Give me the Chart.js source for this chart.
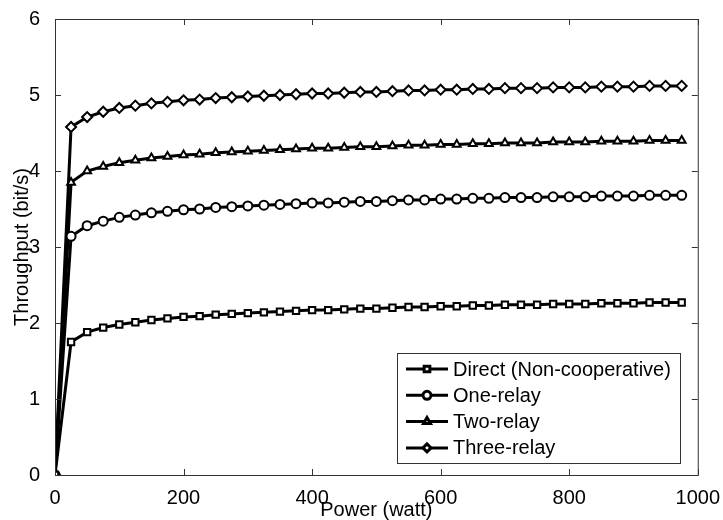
<!DOCTYPE html>
<html>
<head>
<meta charset="utf-8">
<script src="https://cdn.jsdelivr.net/npm/chart.js@4"></script>
<style>
  body { margin: 0; background: #fff; }
  #wrap { width: 723px; height: 520px; }
</style>
</head>
<body>
<div id="wrap"><canvas id="c"></canvas></div>
<script>
var power = [0, 25, 50, 75, 100, 125, 150, 175, 200, 225, 250, 275, 300, 325, 350, 375, 400, 425, 450, 475,
  500, 525, 550, 575, 600, 625, 650, 675, 700, 725, 750, 775, 800, 825, 850, 875, 900, 925, 950, 975];

var direct = [0, 1.75, 1.88, 1.94, 1.98, 2.01, 2.04, 2.06, 2.08, 2.09, 2.11, 2.12, 2.13, 2.14, 2.15, 2.16, 2.17, 2.17, 2.18, 2.19,
  2.19, 2.20, 2.21, 2.21, 2.22, 2.22, 2.23, 2.23, 2.24, 2.24, 2.24, 2.25, 2.25, 2.25, 2.26, 2.26, 2.26, 2.27, 2.27, 2.27];
var oneRelay = [0, 3.14, 3.28, 3.34, 3.39, 3.42, 3.45, 3.47, 3.49, 3.50, 3.52, 3.53, 3.54, 3.55, 3.56, 3.57, 3.58, 3.58, 3.59, 3.60,
  3.60, 3.61, 3.62, 3.62, 3.63, 3.63, 3.64, 3.64, 3.65, 3.65, 3.65, 3.66, 3.66, 3.66, 3.67, 3.67, 3.67, 3.68, 3.68, 3.68];
var twoRelay = [0, 3.85, 4.00, 4.06, 4.11, 4.14, 4.17, 4.19, 4.21, 4.22, 4.24, 4.25, 4.26, 4.27, 4.28, 4.29, 4.30, 4.30, 4.31, 4.32,
  4.32, 4.33, 4.34, 4.34, 4.35, 4.35, 4.36, 4.36, 4.37, 4.37, 4.37, 4.38, 4.38, 4.38, 4.39, 4.39, 4.39, 4.40, 4.40, 4.40];
var threeRelay = [0, 4.58, 4.71, 4.78, 4.83, 4.86, 4.89, 4.91, 4.93, 4.94, 4.96, 4.97, 4.98, 4.99, 5.00, 5.01, 5.02, 5.02, 5.03, 5.04,
  5.04, 5.05, 5.06, 5.06, 5.07, 5.07, 5.08, 5.08, 5.09, 5.09, 5.09, 5.10, 5.10, 5.10, 5.11, 5.11, 5.11, 5.12, 5.12, 5.12];

var labels = ['Direct (Non-cooperative)', 'One-relay', 'Two-relay', 'Three-relay'];
var markers = ['rect', 'circle', 'triangle', 'rectRot'];
var series = [direct, oneRelay, twoRelay, threeRelay];

var FONT = 'Arial, "Liberation Sans", sans-serif';
var FS = 20;

function pts(ys) {
  return power.map(function (p, i) { return { x: p, y: ys[i] }; });
}

var datasets = series.map(function (s, i) {
  return {
    label: labels[i],
    data: pts(s),
    borderColor: '#000',
    borderWidth: 3,
    pointStyle: markers[i],
    pointRadius: markers[i] == 'rectRot' ? 5 : 4.5,
    pointBackgroundColor: '#fff',
    pointBorderColor: '#000',
    pointBorderWidth: 2,
    tension: 0
  };
});

// box, inward ticks and legend, matlab style
var matlabBox = {
  id: 'matlabBox',
  afterDraw: function (chart) {
    var ctx = chart.ctx, a = chart.chartArea;
    var xs = chart.scales.x, ys = chart.scales.y;
    ctx.save();
    ctx.strokeStyle = '#333';
    ctx.lineWidth = 1;
    ctx.strokeRect(a.left + 0.5, a.top + 0.5, a.right - a.left, a.bottom - a.top);
    ctx.beginPath();
    xs.ticks.forEach(function (t) {
      var px = Math.round(xs.getPixelForValue(t.value)) + 0.5;
      ctx.moveTo(px, a.bottom); ctx.lineTo(px, a.bottom - 6);
      ctx.moveTo(px, a.top); ctx.lineTo(px, a.top + 6);
    });
    ys.ticks.forEach(function (t) {
      var py = Math.round(ys.getPixelForValue(t.value)) + 0.5;
      ctx.moveTo(a.left, py); ctx.lineTo(a.left + 6, py);
      ctx.moveTo(a.right, py); ctx.lineTo(a.right - 6, py);
    });
    ctx.stroke();

    // legend
    var lx = 397, ly = 353, lw = 283, lh = 110;
    ctx.fillStyle = '#fff';
    ctx.fillRect(lx, ly, lw, lh);
    ctx.strokeStyle = '#333';
    ctx.strokeRect(lx + 0.5, ly + 0.5, lw, lh);
    ctx.font = FS + 'px ' + FONT;
    ctx.textBaseline = 'middle';
    labels.forEach(function (lab, i) {
      var y = 369 + i * 26.3;
      ctx.strokeStyle = '#000';
      ctx.lineWidth = 3;
      ctx.beginPath();
      ctx.moveTo(406, y); ctx.lineTo(448, y);
      ctx.stroke();
      ctx.fillStyle = '#fff';
      Chart.helpers.drawPoint(ctx, {
        pointStyle: markers[i], radius: 4, borderWidth: 2
      }, 427, y);
      ctx.fillStyle = '#000';
      ctx.fillText(lab, 453, y + 1);
    });
    ctx.restore();
  }
};

new Chart(document.getElementById('c'), {
  type: 'line',
  data: { datasets: datasets },
  plugins: [matlabBox],
  options: {
    responsive: true,
    maintainAspectRatio: false,
    animation: false,
    layout: { padding: { top: 19, right: 24, left: 0, bottom: 0 } },
    plugins: { legend: { display: false }, tooltip: { enabled: false } },
    scales: {
      x: {
        type: 'linear', min: 0, max: 1000,
        grid: { display: false }, border: { display: false },
        ticks: {
          stepSize: 200, color: '#000', font: { family: FONT, size: FS }, padding: 3, maxRotation: 0,
          callback: function (v) { return String(v); }
        },
        title: { display: true, text: 'Power (watt)', color: '#000', font: { family: FONT, size: FS }, padding: { top: 0, bottom: -2 } },
        afterFit: function (s) { s.height = 45; }
      },
      y: {
        min: 0, max: 6,
        grid: { display: false }, border: { display: false },
        ticks: { stepSize: 1, color: '#000', font: { family: FONT, size: FS }, padding: 7 },
        title: { display: true, text: 'Throughput (bit/s)', color: '#000', font: { family: FONT, size: FS }, padding: { top: 10, bottom: 0 } },
        afterFit: function (s) { s.width = 55; }
      }
    }
  }
});
</script>
</body>
</html>
